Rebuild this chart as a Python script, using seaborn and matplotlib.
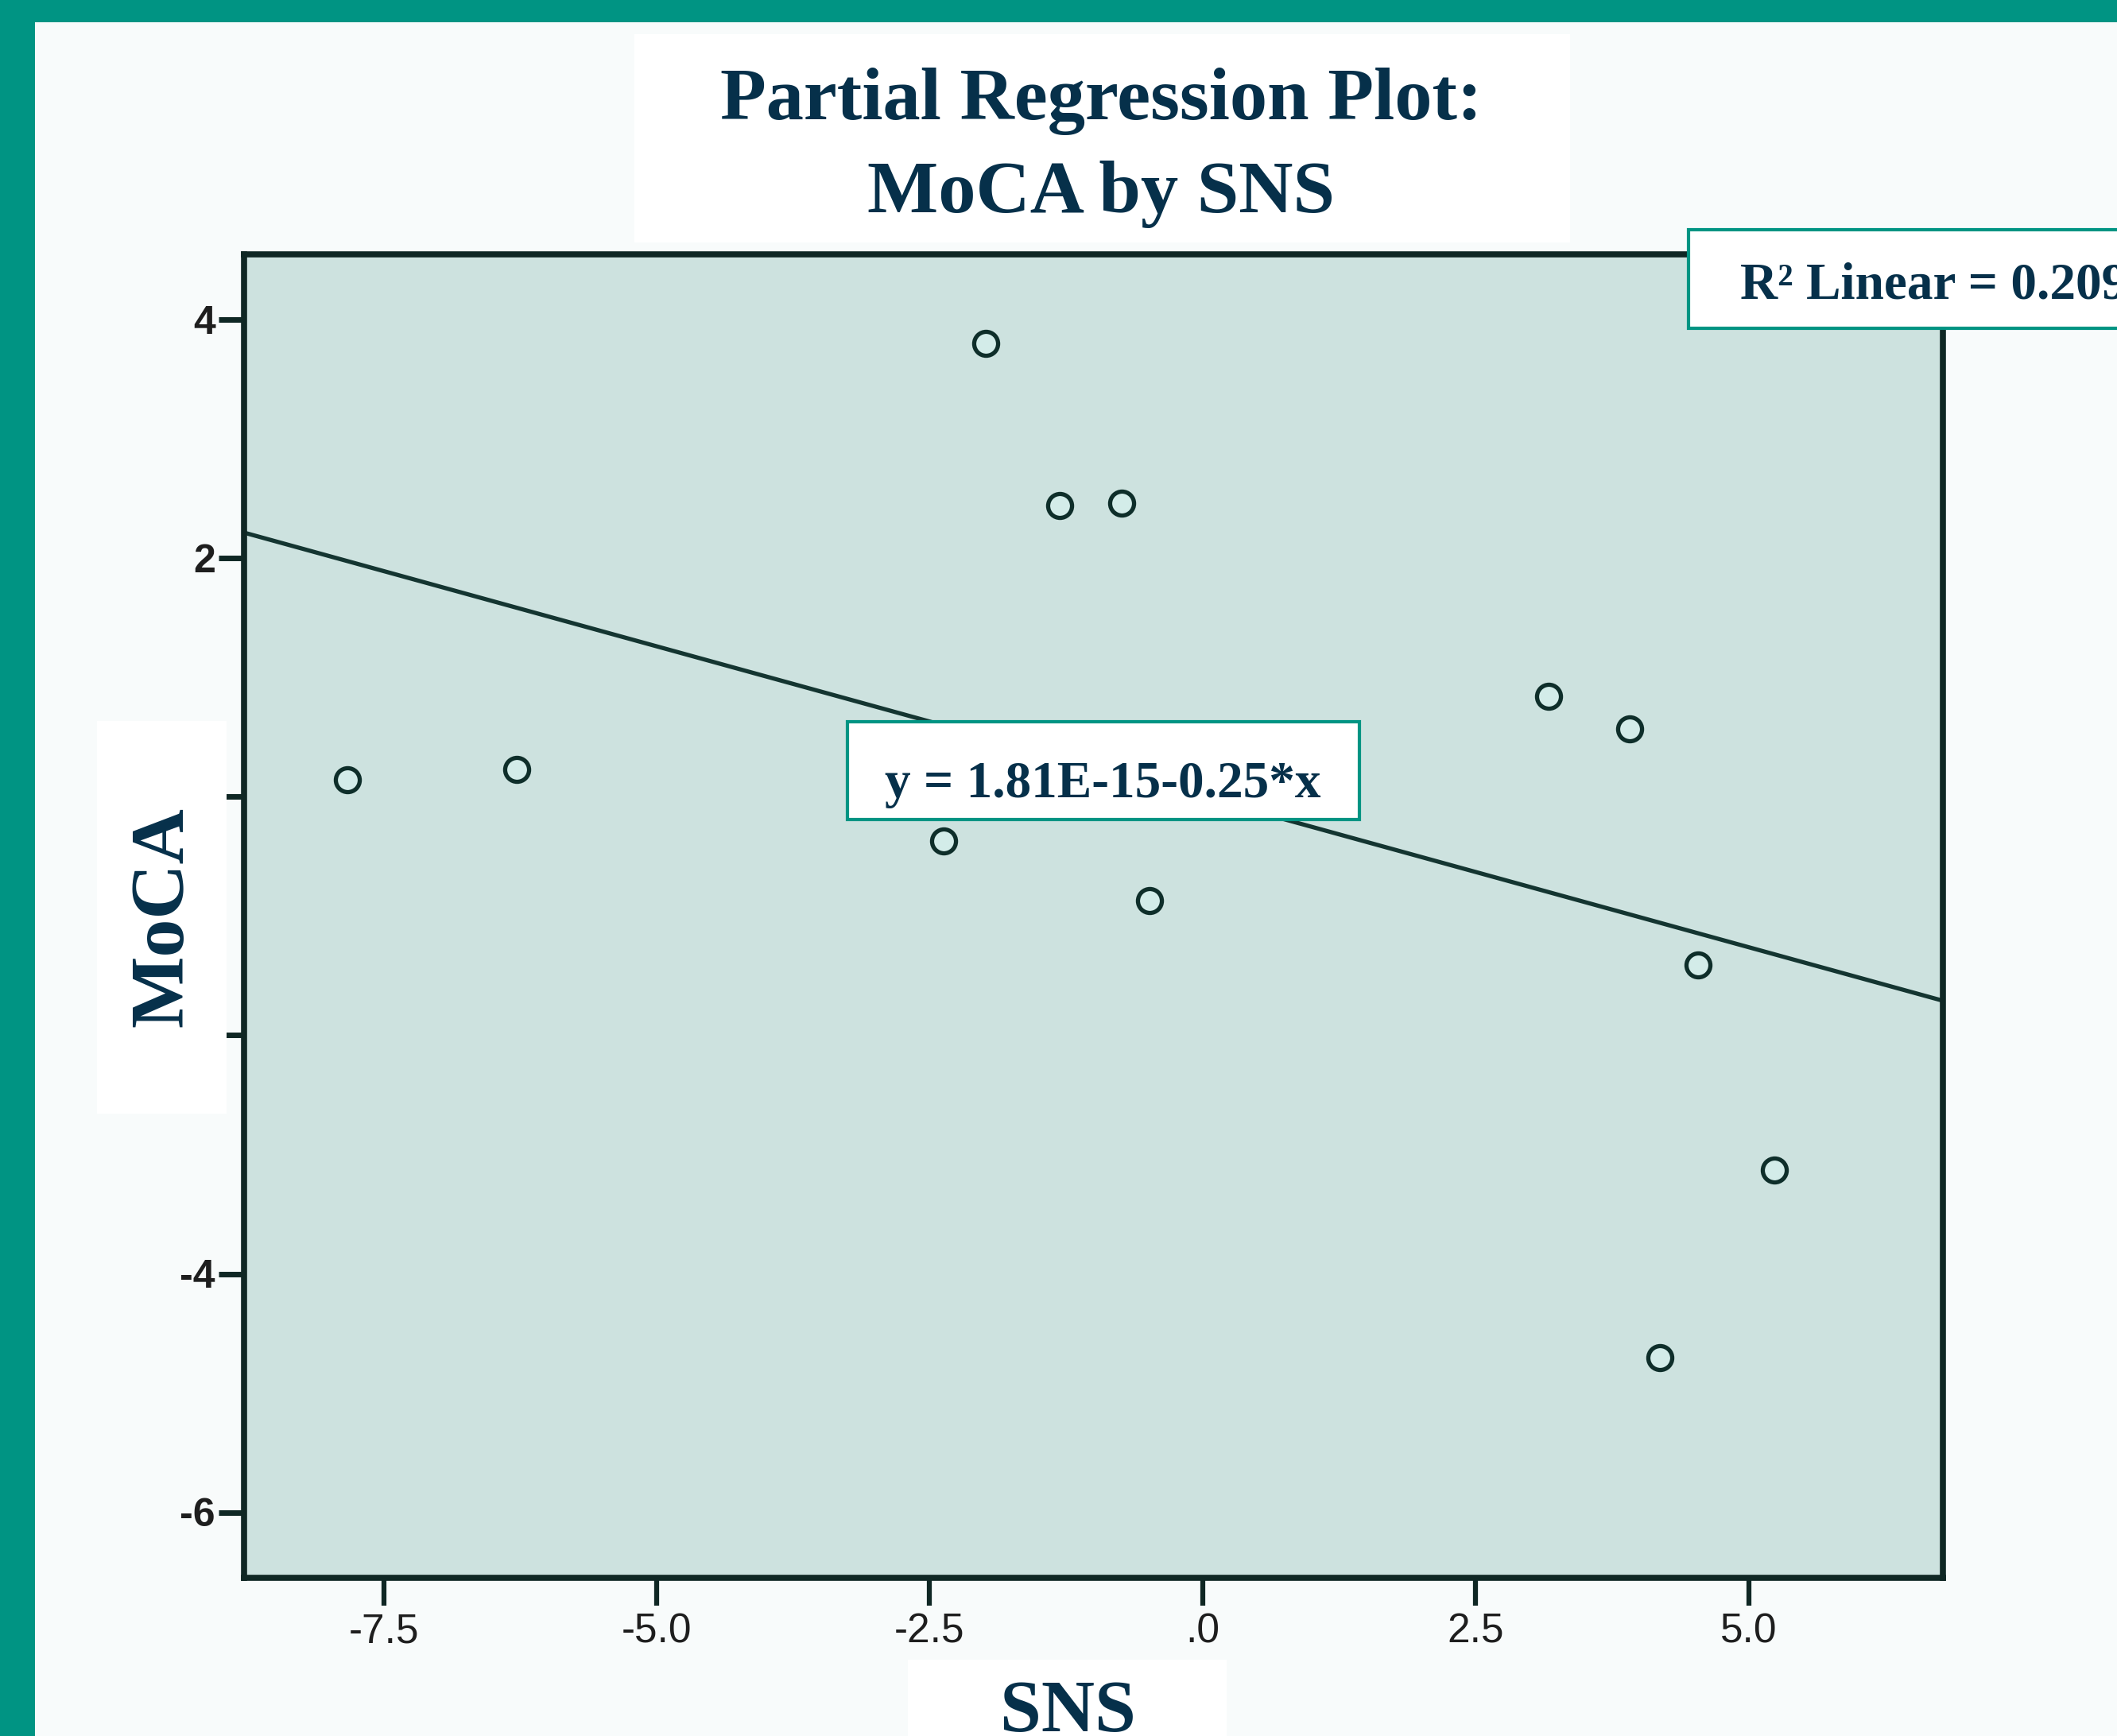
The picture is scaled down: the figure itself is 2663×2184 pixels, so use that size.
import matplotlib
matplotlib.use("Agg")
import matplotlib.pyplot as plt
from matplotlib.patches import Rectangle
import pandas as pd
import seaborn as sns

# Partial regression residuals
sns_resid = [-7.83, -6.28, -1.99, -1.31, -0.74, -2.37, -0.49, 3.17, 3.91, 4.54, 5.24, 4.19]
moca_resid = [0.14, 0.23, 3.80, 2.44, 2.46, -0.37, -0.87, 0.84, 0.57, -1.41, -3.13, -4.70]

x_ticks = [-7.5, -5.0, -2.5, 0.0, 2.5, 5.0]
x_tick_labels = ["-7.5", "-5.0", "-2.5", ".0", "2.5", "5.0"]
y_ticks = [-6, -4, -2, 0, 2, 4]
y_tick_labels = ["-6", "-4", "-2", "0", "2", "4"]  # 0 and -2 sit behind the label box

title_line1 = "Partial Regression Plot:"
title_line2 = "MoCA by SNS"
x_label = "SNS"
y_label = "MoCA"
r2_text = "R² Linear = 0.209"
eq_text = "y = 1.81E-15-0.25*x"

df = pd.DataFrame({"SNS": sns_resid, "MoCA": moca_resid})

# colours
TEAL = "#009483"
PAGE = "#F8FBFB"
PANEL = "#CDE2DF"
NAVY = "#06304A"
FRAME = "#0F2724"

W, H = 2663, 2184
DPI = 100

sns.set_style("white")
plt.rcParams["font.family"] = ["Liberation Serif", "DejaVu Serif"]


def fig_rect(x0, y0, x1, y1):
    # pixel box (top-left origin) -> figure fraction [left, bottom, width, height]
    return [x0 / W, 1 - y1 / H, (x1 - x0) / W, (y1 - y0) / H]


def add_box(x0, y0, x1, y1, face, edge=None, lw=0, z=5):
    l, b, w, h = fig_rect(x0, y0, x1, y1)
    r = Rectangle((l, b), w, h, transform=fig.transFigure, facecolor=face,
                  edgecolor=edge if edge else face, linewidth=lw, zorder=z)
    fig.add_artist(r)


fig = plt.figure(figsize=(W / DPI, H / DPI), dpi=DPI, facecolor=PAGE)

# teal slide edge
add_box(0, 0, 44, H, TEAL, z=1)
add_box(0, 0, W, 28, TEAL, z=1)
# white strip behind title
add_box(798, 43, 1975, 305, "white", z=1)

ax = fig.add_axes(fig_rect(307, 320, 2444, 1985))
ax.set_facecolor(PANEL)
ax.set_xlim(-8.78, 6.78)
ax.set_ylim(-6.55, 4.55)

sns.regplot(data=df, x="SNS", y="MoCA", ax=ax, ci=None, truncate=False,
            scatter_kws=dict(s=470, facecolors="#D3ECE9", edgecolors="#0E2E2A",
                             linewidths=3.8, alpha=1, zorder=3),
            line_kws=dict(color="#143531", lw=3.8, zorder=2))

ax.set_xlim(-8.78, 6.78)
ax.set_ylim(-6.55, 4.55)
ax.set_xlabel("")
ax.set_ylabel("")

ax.set_xticks(x_ticks)
ax.set_xticklabels(x_tick_labels)
ax.set_yticks(y_ticks)
ax.set_yticklabels(y_tick_labels)

for s in ax.spines.values():
    s.set_visible(True)
    s.set_color(FRAME)
    s.set_linewidth(5.5)

ax.tick_params(axis="x", direction="out", length=25, width=4.5, pad=6,
               labelsize=37, color=FRAME, labelcolor="#1E1E1E", bottom=True)
ax.tick_params(axis="y", direction="out", length=23, width=5, pad=3,
               labelsize=36, color=FRAME, labelcolor="#1E1E1E", left=True)
for lab in ax.get_xticklabels():
    lab.set_fontfamily("Liberation Sans")
for lab in ax.get_yticklabels():
    lab.set_fontfamily("Liberation Sans")
    lab.set_fontweight("bold")

# title
fig.text(1385 / W, 1 - 150 / H, title_line1, ha="center", va="baseline",
         fontsize=68, fontweight="bold", color=NAVY, zorder=6)
fig.text(1385 / W, 1 - 267 / H, title_line2, ha="center", va="baseline",
         fontsize=68, fontweight="bold", color=NAVY, zorder=6)

# axis labels in white boxes
add_box(122, 907, 285, 1401, "white", z=5)
fig.text(206 / W, 1 - 1154 / H, y_label, rotation=90, ha="center", va="center",
         fontsize=69, fontweight="bold", color=NAVY, zorder=6)
add_box(1142, 2088, 1543, H + 10, "white", z=5)
fig.text(1343 / W, 1 - 2178 / H, x_label, ha="center", va="baseline",
         fontsize=67, fontweight="bold", color=NAVY, zorder=6)

# equation box
add_box(1066, 908, 1710, 1031, "white", edge=TEAL, lw=3, z=5)
fig.text(1387 / W, 1 - 1003 / H, eq_text, ha="center", va="baseline",
         fontsize=47, fontweight="bold", color=NAVY, zorder=6)

# R squared box (runs off the right edge, as on the slide)
add_box(2124, 289, 2720, 413, "white", edge=TEAL, lw=3, z=5)
fig.text(2189 / W, 1 - 375 / H, r2_text, ha="left", va="baseline",
         fontsize=47, fontweight="bold", color=NAVY, zorder=6)

fig.savefig("out.png", dpi=DPI, facecolor=fig.get_facecolor())
